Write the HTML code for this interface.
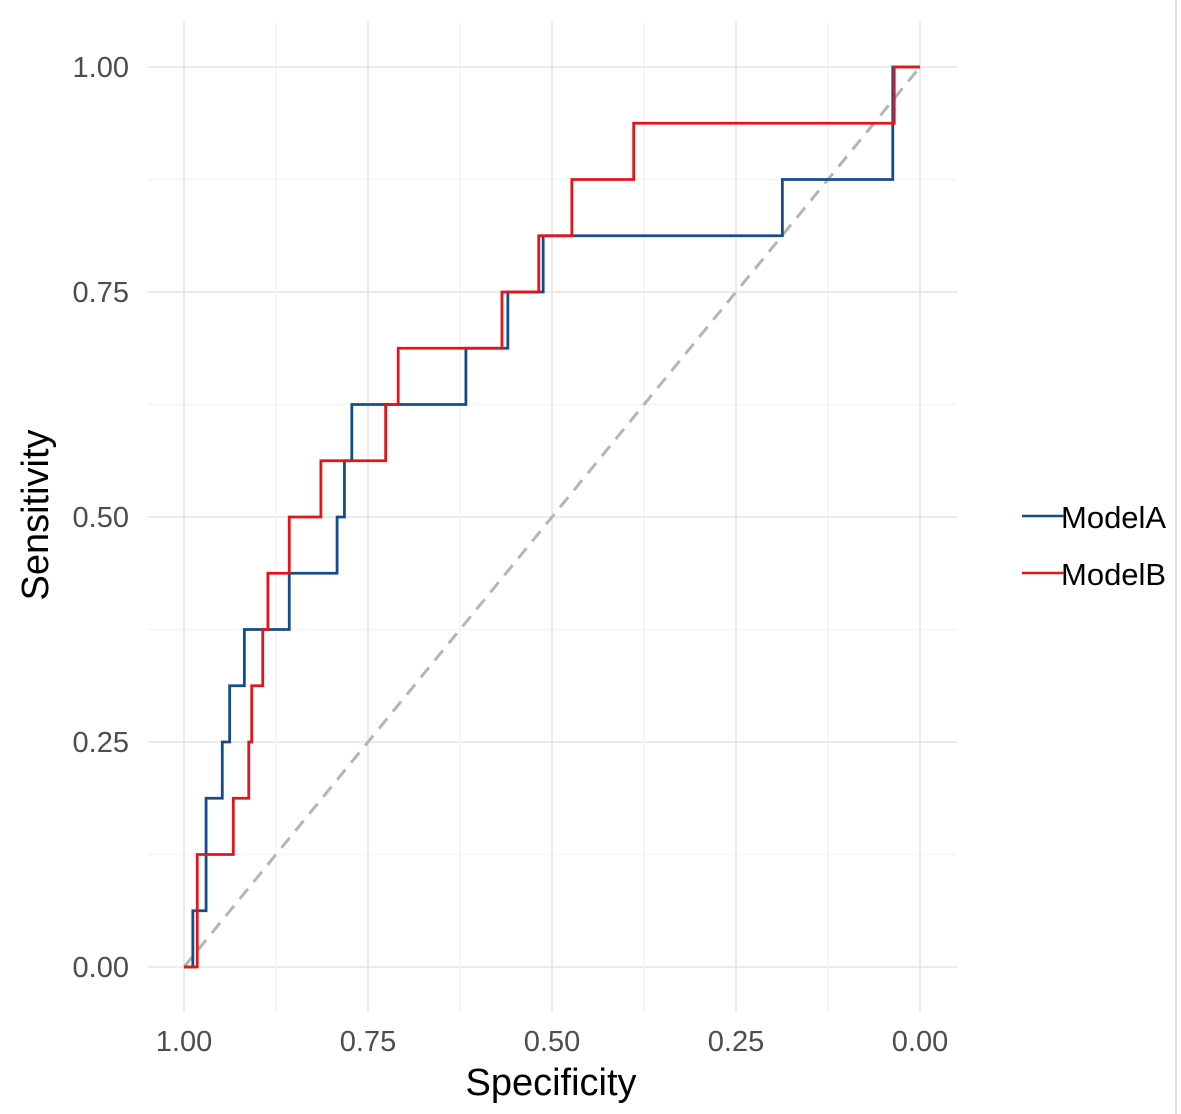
<!DOCTYPE html>
<html><head><meta charset="utf-8"><style>
html,body{margin:0;padding:0;background:#fff;}
svg{display:block;font-family:"Liberation Sans",sans-serif;}
</style></head><body>
<svg id="chart" width="1181" height="1114" viewBox="0 0 1181 1114">
<g id="grid"></g>
<g id="axes"></g>
<g id="marks"></g>
<text x="551" y="1095" text-anchor="middle" font-size="38" fill="#000">Specificity</text>
<text transform="translate(48,515) rotate(-90)" text-anchor="middle" font-size="38" fill="#000">Sensitivity</text>
<g>
<g>
<text x="1061" y="528" font-size="31" fill="#000">ModelA</text>
<line x1="1022" y1="516" x2="1064" y2="516" stroke="#154c8c" stroke-width="2.5"/></g>
<g>
<text x="1061" y="585" font-size="31" fill="#000">ModelB</text>
<line x1="1022" y1="573" x2="1064" y2="573" stroke="#e3141c" stroke-width="2.5"/></g>
</g>
<line x1="1176" y1="0" x2="1176" y2="1114" stroke="#d0d0d0" stroke-width="1.5"/>
</svg>
<script>
const xTicks = [1.00, 0.75, 0.50, 0.25, 0.00];
const xTickLabels = ["1.00", "0.75", "0.50", "0.25", "0.00"];
const yTicks = [0.00, 0.25, 0.50, 0.75, 1.00];
const yTickLabels = ["0.00", "0.25", "0.50", "0.75", "1.00"];
// specificity at which sensitivity steps up to k/16 (k = 1..16)
const modelASpec = [0.988, 0.970, 0.970, 0.948, 0.938, 0.918, 0.857, 0.792, 0.782, 0.772, 0.617, 0.560, 0.512, 0.187, 0.037, 0.037];
const modelBSpec = [0.982, 0.982, 0.933, 0.912, 0.908, 0.893, 0.886, 0.857, 0.814, 0.726, 0.709, 0.568, 0.518, 0.473, 0.389, 0.035];
const nPos = 16;

const NS = "http://www.w3.org/2000/svg";
const X = s => 920 - s * 736;
const Y = v => 967 - v * 900;
function mk(tag, attrs, parent){const e=document.createElementNS(NS,tag);for(const k in attrs)e.setAttribute(k,attrs[k]);parent.appendChild(e);return e;}
const grid = document.getElementById('grid'), axes = document.getElementById('axes'), marks = document.getElementById('marks');

for (let v = 0; v <= 1.0001; v += 0.125) {
  const major = Math.abs(v*4 - Math.round(v*4)) < 1e-6;
  const h = mk('line', {x1:148, x2:957, y1:Y(v), y2:Y(v), stroke: major ? '#ebebeb' : '#f4f4f4', 'stroke-width': major ? 2 : 1.5}, grid);
  
  
  const vl = mk('line', {x1:X(v), x2:X(v), y1:22, y2:1012, stroke: major ? '#ebebeb' : '#f4f4f4', 'stroke-width': major ? 2 : 1.5}, grid);
  
  
}
xTicks.forEach((t, i) => {
  const e = mk('text', {x:X(t), y:1051, 'text-anchor':'middle', 'font-size':29, fill:'#4d4d4d'}, axes);
  e.textContent = xTickLabels[i];
  
  
});
yTicks.forEach((t, i) => {
  const e = mk('text', {x:129, y:Y(t)+10, 'text-anchor':'end', 'font-size':29, fill:'#4d4d4d'}, axes);
  e.textContent = yTickLabels[i];
  
  
});
const diag = mk('line', {x1:X(1), y1:Y(0), x2:X(0), y2:Y(1), stroke:'#b5b5b5', 'stroke-width':3, 'stroke-dasharray':'13 9'}, marks);



function stepPath(spec) {
  let d = `M${X(1)},${Y(0)}`;
  spec.forEach((s, i) => {
    d += ` H${X(s)} V${Y((i+1)/nPos)}`;
  });
  d += ` H${X(0)}`;
  return d;
}
const pa = mk('path', {d: stepPath(modelASpec), fill:'none', stroke:'#154c8c', 'stroke-width':2.8}, marks);


const pb = mk('path', {d: stepPath(modelBSpec), fill:'none', stroke:'#e3141c', 'stroke-width':2.8}, marks);


</script>
</body></html>
